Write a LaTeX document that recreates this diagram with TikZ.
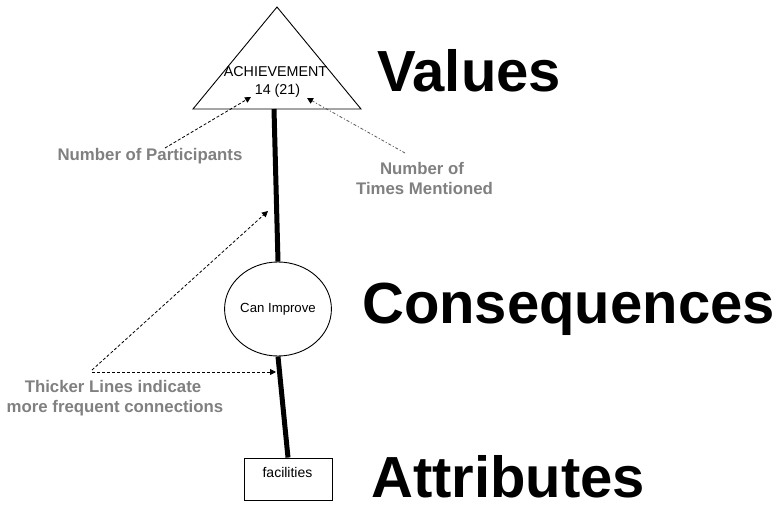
\documentclass[tikz,border=0pt]{standalone}
\usepackage{fontspec}
\setmainfont{Liberation Sans}
\usetikzlibrary{arrows.meta,shapes.geometric}
\begin{document}
\begin{tikzpicture}[x=1pt,y=-1pt,
 thinline/.style={draw=black,line width=0.9pt},
 thickline/.style={draw=black,line width=5pt},
 dasharrow/.style={draw=black,line width=0.8pt,dash pattern=on 3pt off 2pt,-{Triangle[length=6pt,width=6pt]}},
 dotarrow/.style={draw=black!65,line width=0.8pt,dash pattern=on 3pt off 2pt on 1pt off 2pt,-{Triangle[length=6pt,width=6pt,color=black]}},
 level/.style={font=\fontsize{58}{60}\selectfont\bfseries,inner sep=0pt,anchor=base west},
 note/.style={font=\fontsize{16.8}{20}\selectfont\bfseries,text=black!50,inner sep=0pt,anchor=base},
 small/.style={font=\fontsize{14.3}{18}\selectfont,inner sep=0pt,anchor=base}]
\useasboundingbox (0,0) rectangle (776,505);
\fill[white] (0,0) rectangle (776,505);

% triangle (value)
\coordinate (apex) at (277,7);
\coordinate (tl) at (193,109);
\coordinate (tr) at (361,109);
\draw[thinline] (apex) -- (tl) -- (tr) -- cycle;
\coordinate (tribase) at (274,109);
\node[small] (ach) at (275.5,77) {ACHIEVEMENT};
\node[small] (cnt) at (277.5,95) {14 (21)};

% circle (consequence)
\node[thinline,ellipse,minimum width=82pt,minimum height=94pt,inner sep=0pt,
      font=\fontsize{13.2}{15}\selectfont] (ci) at (278,309) {Can Improve};

% rectangle (attribute)
\node[thinline,rectangle,minimum width=88pt,minimum height=42pt,inner sep=0pt] (fac) at (288,479) {};
\node[font=\fontsize{14}{16}\selectfont,inner sep=0pt,anchor=base] (factext) at (287.5,477) {facilities};

% thick connections
\draw[thickline] (tribase) -- (ci.north);
\draw[thickline] (ci.south) -- (fac.north);

% gray notes
\node[note] (np) at (150,161) {Number of Participants};
\node[note] (nt1) at (422,175) {Number of};
\node[note] (nt2) at (424.5,195) {Times Mentioned};
\node[note] (tl1) at (113,392) {Thicker Lines indicate};
\node[note] (tl2) at (115,412) {more frequent connections};

% annotation arrows
\coordinate (a1s) at (165,148);
\coordinate (a1e) at (251,97);
\coordinate (a2s) at (405,153);
\coordinate (a2e) at (307,98);
\coordinate (a3s) at (92,370);
\coordinate (a3e) at (268,211);
\coordinate (a4s) at (92,372);
\coordinate (a4e) at (276,372);
\draw[dasharrow] (a1s) -- (a1e);
\draw[dotarrow] (a2s) -- (a2e);
\draw[dasharrow] (a3s) -- (a3e);
\draw[dasharrow] (a4s) -- (a4e);

% level labels
\node[level] (val) at (377,92) {Values};
\node[level] (con) at (362,323) {Consequences};
\node[level] (att) at (371,497) {Attributes};
\end{tikzpicture}
\end{document}
